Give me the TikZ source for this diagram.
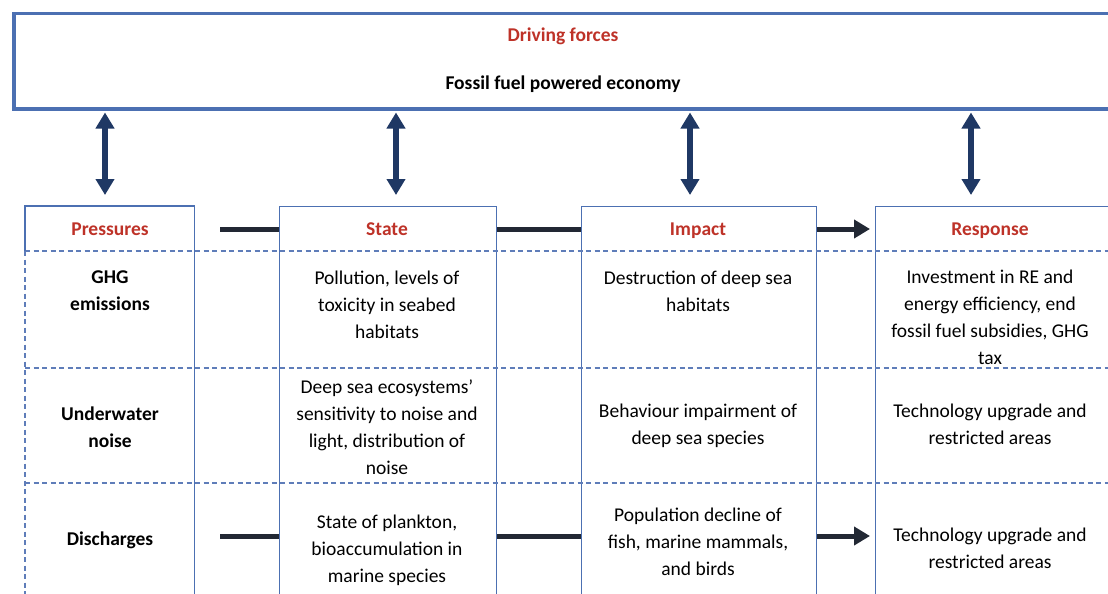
\documentclass[tikz,border=0pt]{standalone}
\usepackage{fontspec}
\setmainfont{Carlito}
\usetikzlibrary{arrows.meta}
\definecolor{boxblue}{RGB}{76,112,178}
\definecolor{dashblue}{RGB}{95,125,185}
\definecolor{navy}{RGB}{31,56,100}
\definecolor{conncol}{RGB}{34,40,52}
\definecolor{headred}{RGB}{190,50,40}
\tikzset{
  txt/.style={font=\fontsize{19.5}{27}\selectfont, align=center, inner sep=0pt, text=black,
              execute at begin node=\strut, execute at end node=\strut},
  btxt/.style={txt, font=\fontsize{19.5}{27}\selectfont\bfseries},
  head/.style={btxt, text=headred},
  colbox/.style={anchor=north west, inner sep=0pt, minimum height=450pt},
  colline/.style={draw=boxblue, line width=1.3pt},
  rowline/.style={draw=dashblue, line width=1.3pt, dash pattern=on 5pt off 3.5pt},
  dbl/.style={draw=navy, line width=5.5pt, {Triangle[width=18pt,length=16pt]}-{Triangle[width=18pt,length=16pt]}},
  conn/.style={draw=conncol, line width=5pt},
  connarrow/.style={conn, -{Triangle[width=18pt,length=16pt]}}
}
\begin{document}
\begin{tikzpicture}[x=1pt,y=-1pt]
\useasboundingbox (0,0) rectangle (1108,594);
\clip (0,0) rectangle (1108,594);
\fill[white] (0,0) rectangle (1108,594);

% top box
\node[draw=boxblue, line width=3.5pt, anchor=north west, inner sep=0pt,
      minimum width=1140pt, minimum height=95pt] (dr) at (12,12) {};
\node[head] (drt) at (563,36) {Driving forces};
\node[btxt] (drs) at (563,84) {Fossil fuel powered economy};

% columns
\node[colbox, minimum width=169pt] (p) at (25,206) {};
\node[colbox, colline, minimum width=217pt] (s) at (279,206) {};
\node[colbox, colline, minimum width=235pt] (i) at (581,206) {};
\node[colbox, colline, minimum width=300pt] (r) at (875,206) {};

% row separators
\coordinate (d1) at (25,251);
\coordinate (d2) at (25,368);
\coordinate (d3) at (25,483);
\coordinate (dend) at (1120,0);
\draw[rowline] (d1) -- (dend |- d1);
\draw[rowline] (d2) -- (dend |- d2);
\draw[rowline] (d3) -- (dend |- d3);

% pressures box border
\draw[colline] (p.west |- d1) -- (p.north west) -- (p.north east) -- (p.south east);
\draw[rowline] (p.west |- d1) -- (p.south west);

% headers
\node[head] (ph) at (110,230) {Pressures};
\node[head] (sh) at (387,230) {State};
\node[head] (ih) at (698,230) {Impact};
\node[head] (rh) at (990,230) {Response};

% pressures
\node[btxt] (p1) at (110,295) {GHG\\emissions};
\node[btxt] (p2) at (110,431) {Underwater\\noise};
\node[btxt] (p3) at (110,540) {Discharges};

% state
\node[txt] (s1) at (387,308.5) {Pollution, levels of\\toxicity in seabed\\habitats};
\node[txt] (s2) at (387,431.5) {Deep sea ecosystems’\\sensitivity to noise and\\light, distribution of\\noise};
\node[txt] (s3) at (387,552.5) {State of plankton,\\bioaccumulation in\\marine species};

% impact
\node[txt] (i1) at (698,295) {Destruction of deep sea\\habitats};
\node[txt] (i2) at (698,428) {Behaviour impairment of\\deep sea species};
\node[txt] (i3) at (698,545.5) {Population decline of\\fish, marine mammals,\\and birds};

% response
\node[txt] (r1) at (990,321.5) {Investment in RE and\\energy efficiency, end\\fossil fuel subsidies, GHG\\tax};
\node[txt] (r2) at (990,428) {Technology upgrade and\\restricted areas};
\node[txt] (r3) at (990,552) {Technology upgrade and\\restricted areas};

% double arrows
\coordinate (a1) at (105,0);
\coordinate (a2) at (396,0);
\coordinate (a3) at (690,0);
\coordinate (a4) at (971,0);
\foreach \a/\c in {a1/p,a2/s,a3/i,a4/r}{
  \draw[dbl, shorten <=2pt, shorten >=11pt] (\a |- dr.south) -- (\a |- \c.north);
}

% connectors
\coordinate (c1) at (220,229);
\coordinate (c2) at (220,536);
\draw[conn] (c1) -- (s.west |- c1);
\draw[conn] (s.east |- c1) -- (i.west |- c1);
\draw[connarrow, shorten >=5pt] (i.east |- c1) -- (r.west |- c1);
\draw[conn] (c2) -- (s.west |- c2);
\draw[conn] (s.east |- c2) -- (i.west |- c2);
\draw[connarrow, shorten >=5pt] (i.east |- c2) -- (r.west |- c2);
\end{tikzpicture}
\end{document}
